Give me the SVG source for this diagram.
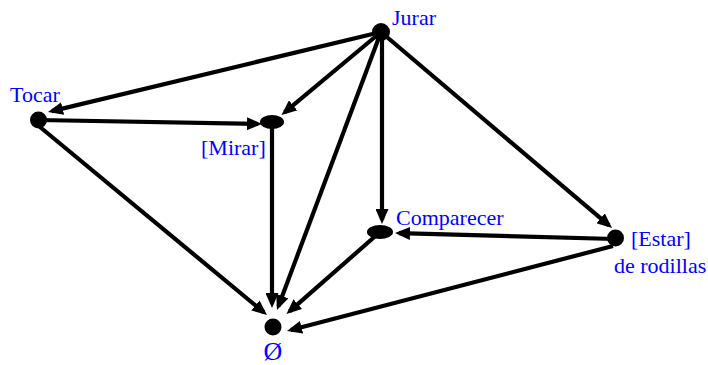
<svg xmlns="http://www.w3.org/2000/svg" width="708" height="365" viewBox="0 0 708 365">
<defs>
<marker id="arr" markerUnits="userSpaceOnUse" markerWidth="15" markerHeight="13" refX="11" refY="6.5" orient="auto">
<path d="M0,0 L15,6.5 L0,13 z" fill="#000"/>
</marker>
<style>
.e{stroke:#000;stroke-width:4.2;fill:none;marker-end:url(#arr)}
.n{fill:#000}
.t{font-family:"Liberation Serif","Times New Roman",serif;font-size:22px;fill:#0000ff}
</style>
</defs>
<rect width="708" height="365" fill="#fff"/>
<g id="connectors">
<line class="e" x1="381" y1="32" x2="51.9" y2="111.1"/>
<line class="e" x1="381" y1="32" x2="284.6" y2="112.4"/>
<line class="e" x1="381" y1="32" x2="278.4" y2="306.3"/>
<line class="e" x1="382" y1="32" x2="382" y2="220"/>
<line class="e" x1="381" y1="32" x2="609" y2="225.4"/>
<line class="e" x1="38" y1="120" x2="258" y2="123.9"/>
<line class="e" x1="40" y1="127" x2="263.9" y2="312.4"/>
<line class="e" x1="272" y1="122" x2="272" y2="304"/>
<line class="e" x1="380" y1="232" x2="289.5" y2="311.4"/>
<line class="e" x1="615" y1="239" x2="399" y2="233.1"/>
<line class="e" x1="613" y1="246" x2="290.9" y2="330"/>
</g>
<g id="jurar">
<circle class="n" cx="381" cy="32" r="9"/>
<text class="t" x="392" y="25">Jurar</text>
</g>
<g id="tocar">
<circle class="n" cx="38.5" cy="120" r="8.5"/>
<text class="t" x="10" y="102">Tocar</text>
</g>
<g id="mirar">
<ellipse class="n" cx="272" cy="122" rx="12" ry="7"/>
<text class="t" x="201" y="155">[Mirar]</text>
</g>
<g id="comparecer">
<ellipse class="n" cx="380" cy="232" rx="13" ry="7"/>
<text class="t" x="396" y="225">Comparecer</text>
</g>
<g id="estar">
<circle class="n" cx="615.5" cy="238" r="8.5"/>
<text class="t" x="631" y="246">[Estar]</text>
<text class="t" x="614" y="273">de rodillas</text>
</g>
<g id="vacio">
<circle class="n" cx="273" cy="327" r="8.5"/>
<text class="t" x="273" y="360" text-anchor="middle" style="font-size:26px">Ø</text>
</g>
</svg>
